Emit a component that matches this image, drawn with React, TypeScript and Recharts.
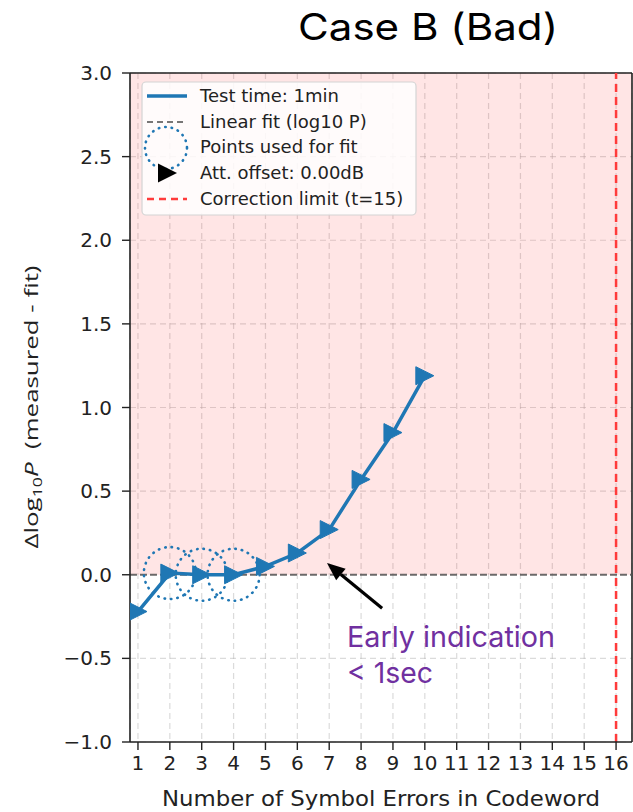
import React from "react";
import {
  ComposedChart,
  Line,
  Scatter,
  XAxis,
  YAxis,
  CartesianGrid,
  ReferenceArea,
  ReferenceLine,
} from "recharts";

// values
const errorCounts = [1, 2, 3, 4, 5, 6, 7, 8, 9, 10];
const deltaLogP = [-0.22, 0.01, 0.0, 0.0, 0.05, 0.13, 0.27, 0.57, 0.85, 1.19];
const fitPoints = [2, 3, 4];
const xTicks = [1, 2, 3, 4, 5, 6, 7, 8, 9, 10, 11, 12, 13, 14, 15, 16];
const yTicks = [-1, -0.5, 0, 0.5, 1, 1.5, 2, 2.5, 3];
const correctionLimit = 16;
const arrowTail = { x: 8.66, y: -0.2 };
const arrowTip = { x: 6.93, y: 0.07 };

const BLUE = "#1f77b4";
const MPL_FONT = "'DejaVu Sans', sans-serif";

const data = errorCounts.map((x, i) => ({ x, y: deltaLogP[i] }));
const fitData = fitPoints.map((x) => ({ x, y: deltaLogP[errorCounts.indexOf(x)] }));

function triPath(cx: number, cy: number, r: number) {
  return `M${cx + r},${cy} L${cx - r},${cy - r} L${cx - r},${cy + r} Z`;
}

const TriangleDot = (props: any) => {
  const { cx, cy, index } = props;
  if (cx == null || cy == null) return null;
  return <path key={`tri-${index}`} d={triPath(cx, cy, 9)} fill={BLUE} stroke={BLUE} strokeWidth={1} />;
};

const FitCircle = (props: any) => {
  const { cx, cy } = props;
  return (
    <circle
      cx={cx}
      cy={cy}
      r={26}
      fill="none"
      stroke={BLUE}
      strokeWidth={2.6}
      strokeDasharray="0.5 6"
      strokeLinecap="round"
    />
  );
};

const ArrowShape = (props: any) => {
  const { x1, y1, x2, y2 } = props;
  const ang = Math.atan2(y2 - y1, x2 - x1);
  const len = 18;
  const half = 7.5;
  const bx = x2 - len * Math.cos(ang);
  const by = y2 - len * Math.sin(ang);
  const px = -Math.sin(ang) * half;
  const py = Math.cos(ang) * half;
  return (
    <g>
      <line x1={x1} y1={y1} x2={bx} y2={by} stroke="#000" strokeWidth={3.2} />
      <polygon points={`${x2},${y2} ${bx + px},${by + py} ${bx - px},${by - py}`} fill="#000" />
    </g>
  );
};

const fmtY = (v: number) => (v < 0 ? "\u2212" + Math.abs(v).toFixed(1) : v.toFixed(1));

function Overlay() {
  const rows = [102, 128, 153, 179, 205];
  return (
    <svg
      width={633}
      height={812}
      style={{ position: "absolute", left: 0, top: 0, pointerEvents: "none" }}
    >
      {/* title */}
      <text x={298} y={40} fontFamily="Inter, sans-serif" fontSize={37} fill="#000" textLength={260} lengthAdjust="spacingAndGlyphs">
        Case B (Bad)
      </text>

      {/* y label */}
      <text
        transform="translate(38,407) rotate(-90)"
        textAnchor="middle"
        fontFamily="'Open Sans', sans-serif"
        fontSize={19}
        fill="#222"
        textLength={283}
        lengthAdjust="spacingAndGlyphs"
      >
        Δlog<tspan fontSize={13} dy={4}>10</tspan>
        <tspan dy={-4} fontStyle="italic">P</tspan>
        <tspan>{"\u00a0 (measured - fit)"}</tspan>
      </text>

      {/* x label */}
      <text x={381} y={806} textAnchor="middle" fontFamily={MPL_FONT} fontSize={20.5} fill="#222" textLength={438} lengthAdjust="spacingAndGlyphs">
        Number of Symbol Errors in Codeword
      </text>

      {/* legend */}
      <rect x={142} y={82} width={274} height={133} rx={4} fill="#fff" fillOpacity={0.85} stroke="#d4d4d4" strokeWidth={1.2} />
      <line x1={147} y1={96} x2={187} y2={96} stroke={BLUE} strokeWidth={3.5} />
      <line x1={147} y1={122} x2={187} y2={122} stroke="#555" strokeOpacity={0.8} strokeWidth={2} strokeDasharray="6 4" />
      <circle cx={166} cy={148} r={21} fill="none" stroke={BLUE} strokeWidth={2.6} strokeDasharray="0.5 6" strokeLinecap="round" />
      <path d={triPath(167.5, 173, 9.5)} fill="#000" />
      <line x1={147} y1={199} x2={187} y2={199} stroke="#ff3b3b" strokeWidth={2.5} strokeDasharray="7 5" />
      {["Test time: 1min", "Linear fit (log10 P)", "Points used for fit", "Att. offset: 0.00dB", "Correction limit (t=15)"].map(
        (t, i) => (
          <text key={t} x={200} y={rows[i]} fontFamily={MPL_FONT} fontSize={18} fill="#222">
            {t}
          </text>
        )
      )}

      {/* annotation */}
      <text x={347} y={647} fontFamily="Inter, sans-serif" fontSize={29} fill="#7030A0" textLength={208} lengthAdjust="spacingAndGlyphs">
        Early indication
      </text>
      <text x={347} y={683} fontFamily="Inter, sans-serif" fontSize={29} fill="#7030A0" textLength={86} lengthAdjust="spacingAndGlyphs">
        {"< 1sec"}
      </text>
    </svg>
  );
}

export default function App() {
  return (
    <div style={{ position: "absolute", left: 0, top: 0, width: 633, height: 812, background: "#fff" }}>
      <ComposedChart
        width={633}
        height={812}
        data={data}
        margin={{ top: 73, right: 1, left: 70, bottom: 30 }}
      >
        <CartesianGrid
          stroke="#b0b0b0"
          strokeOpacity={0.45}
          strokeDasharray="6 4"
          strokeWidth={1.2}
        />
        <ReferenceArea y1={0} y2={3} fill="#ff0000" fillOpacity={0.1} stroke="none" />
        <XAxis
          type="number"
          dataKey="x"
          domain={[0.75, 16.5]}
          allowDataOverflow
          ticks={xTicks}
          interval={0}
          height={40}
          tickSize={8}
          tickMargin={6}
          axisLine={{ stroke: "#222", strokeWidth: 1.6 }}
          tickLine={{ stroke: "#222", strokeWidth: 1.4 }}
          tick={{ fill: "#222", fontSize: 20, fontFamily: MPL_FONT }}
        />
        <YAxis
          type="number"
          domain={[-1, 3]}
          allowDataOverflow
          ticks={yTicks}
          interval={0}
          width={60}
          tickSize={8}
          tickMargin={10}
          tickFormatter={fmtY}
          axisLine={{ stroke: "#222", strokeWidth: 1.6 }}
          tickLine={{ stroke: "#222", strokeWidth: 1.4 }}
          tick={{ fill: "#222", fontSize: 20, fontFamily: MPL_FONT }}
        />
        {/* top and right spines */}
        <ReferenceLine y={3} stroke="#222" strokeWidth={1.6} />
        <ReferenceLine x={16.5} stroke="#222" strokeWidth={1.6} />

        {/* linear fit */}
        <ReferenceLine y={0} stroke="#555" strokeOpacity={0.85} strokeWidth={2} strokeDasharray="7 3" />
        {/* correction limit */}
        <ReferenceLine x={correctionLimit} stroke="#ff3b3b" strokeWidth={2.5} strokeDasharray="8 5" />

        <Scatter data={fitData} dataKey="y" shape={FitCircle} isAnimationActive={false} />
        <Line
          type="linear"
          dataKey="y"
          stroke={BLUE}
          strokeWidth={3.5}
          dot={TriangleDot}
          activeDot={false}
          isAnimationActive={false}
        />
        <ReferenceLine segment={[arrowTail, arrowTip]} shape={ArrowShape} ifOverflow="visible" />
      </ComposedChart>
      <Overlay />
    </div>
  );
}
